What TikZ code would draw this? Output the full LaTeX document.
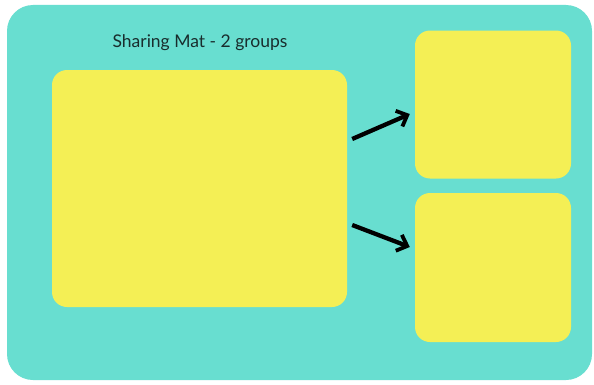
\documentclass[tikz,border=0pt]{standalone}
\usepackage{fontspec}
\setmainfont{Lato}
\usetikzlibrary{arrows.meta,calc}
\definecolor{mat}{RGB}{104,222,208}
\definecolor{pad}{RGB}{244,239,85}
\definecolor{ink}{RGB}{25,45,45}
\begin{document}
\begin{tikzpicture}[x=1pt,y=1pt,
  padbox/.style={fill=pad,draw=none,rounded corners=15pt,inner sep=0pt},
  arr/.style={line width=4.3pt,-{Straight Barb[length=9pt,width=17pt,line width=3.8pt]},black}]
\useasboundingbox (0,0) rectangle (594,384);
\fill[white] (0,0) rectangle (594,384);
\node[fill=mat,draw=none,rounded corners=26pt,minimum width=585pt,minimum height=375pt,inner sep=0pt] (mat) at (299.5,191.5) {};
\node[text=ink,font=\fontsize{17.5}{20}\selectfont] (title) at (200,341) {Sharing Mat - 2 groups};
\node[padbox,minimum width=295pt,minimum height=237pt] (big) at (199.5,195.5) {};
\node[padbox,minimum width=156pt,minimum height=148pt] (top) at (493,279.5) {};
\node[padbox,minimum width=156pt,minimum height=149pt] (bot) at (493,116.5) {};
\coordinate (s1) at ($(big.east)+(5,49.5)$);
\coordinate (e1) at ($(top.west)+(-5,-9.5)$);
\coordinate (s2) at ($(big.east)+(5,-36.5)$);
\coordinate (e2) at ($(bot.west)+(-5,20.5)$);
\draw[arr] (s1) -- (e1);
\draw[arr] (s2) -- (e2);
\end{tikzpicture}
\end{document}
